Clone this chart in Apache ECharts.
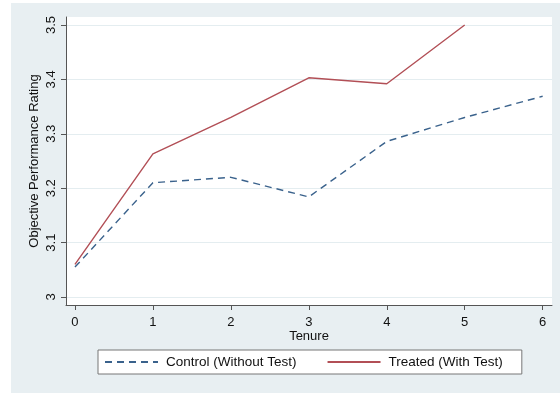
<!DOCTYPE html>
<html>
<head>
<meta charset="utf-8">
<script src="https://cdn.jsdelivr.net/npm/echarts@6/dist/echarts.min.js"></script>
<style>
html,body{margin:0;padding:0;background:#fff;}
#panel{position:absolute;left:11px;top:3px;width:549px;height:390px;background:#e8eff2;}
#chart{position:absolute;left:0;top:0;width:560px;height:393px;}
</style>
</head>
<body>
<div id="panel"></div>
<div id="chart"></div>
<script>
const tenure = [0, 1, 2, 3, 4, 5, 6];
const controlValues = [3.055, 3.210, 3.220, 3.184, 3.286, 3.330, 3.369];
const treatedValues = [3.060, 3.263, 3.330, 3.403, 3.392, 3.500];
const xTicks = [0, 1, 2, 3, 4, 5, 6];
const yTicks = [3, 3.1, 3.2, 3.3, 3.4, 3.5];
const seriesNames = ['Control (Without Test)', 'Treated (With Test)'];

const chart = echarts.init(document.getElementById('chart'), null, {renderer: 'canvas'});
const font = 'Liberation Sans, Arial, sans-serif';
chart.setOption({
  backgroundColor: 'transparent',
  animation: false,
  textStyle: {fontFamily: font},
  grid: {left: 66, right: 8, top: 17, bottom: 88, show: true, backgroundColor: '#ffffff', borderWidth: 0},
  xAxis: {
    type: 'value', min: -0.115, max: 6.12,
    name: 'Tenure', nameLocation: 'middle', nameGap: 25, nameMoveOverlap: false,
    nameTextStyle: {fontSize: 13, color: '#111', fontFamily: font},
    axisLine: {show: true, onZero: false, lineStyle: {color: '#555', width: 1}},
    axisTick: {show: true, length: 5, customValues: xTicks, lineStyle: {color: '#555'}},
    axisLabel: {customValues: xTicks, fontSize: 13, color: '#111', margin: 11, fontFamily: font},
    splitLine: {show: false}
  },
  yAxis: {
    type: 'value', min: 2.9853, max: 3.5147,
    name: 'Objective Performance Rating', nameLocation: 'middle', nameGap: 25, nameMoveOverlap: false,
    nameTextStyle: {fontSize: 13, color: '#111', fontFamily: font},
    axisLine: {show: true, onZero: false, lineStyle: {color: '#555', width: 1}},
    axisTick: {show: true, length: 5, customValues: yTicks, lineStyle: {color: '#555'}},
    axisLabel: {customValues: yTicks, rotate: 90, fontSize: 13, color: '#111', margin: 8, fontFamily: font,
      formatter: v => String(Math.round(v * 10) / 10)},
    splitLine: {show: true, lineStyle: {color: '#e4edf0', width: 1}}
  },
  legend: {
    left: 98, top: 350,
    padding: [5, 19, 5, 6],
    itemWidth: 53, itemHeight: 13, itemGap: 30,
    backgroundColor: '#ffffff', borderColor: '#777', borderWidth: 1,
    itemStyle: {opacity: 0},
    textStyle: {fontSize: 13.5, color: '#111', fontFamily: font, padding: [0, 0, 0, 3]},
    data: seriesNames
  },
  series: [
    {
      name: seriesNames[0], type: 'line', symbol: 'none',
      data: tenure.map((t, i) => [t, controlValues[i]]),
      lineStyle: {color: '#3a628c', width: 1.4, type: [7, 5]},
      itemStyle: {color: '#3a628c'}
    },
    {
      name: seriesNames[1], type: 'line', symbol: 'none',
      data: treatedValues.map((v, i) => [tenure[i], v]),
      lineStyle: {color: '#b24f56', width: 1.4},
      itemStyle: {color: '#b24f56'}
    }
  ]
});
</script>
</body>
</html>
